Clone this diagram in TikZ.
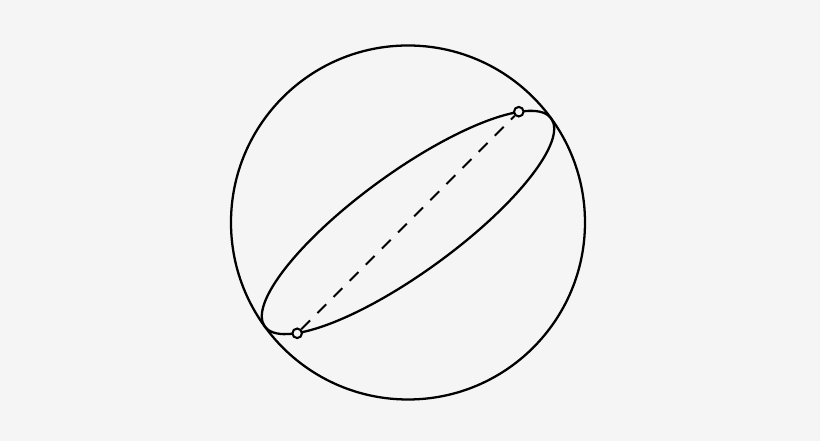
\documentclass[tikz,border=0pt]{standalone}
\usetikzlibrary{calc}
\definecolor{fondo}{HTML}{F5F5F5}
\begin{document}
\begin{tikzpicture}
	\tikzset{linea/.style={line width=1.1pt},
		punto/.style={circle,draw,fill=fondo,inner sep=0pt,minimum size=4.6pt,line width=1pt}}
	\fill[fondo] (-6.915,-3.703) rectangle (6.983,3.771);
	\useasboundingbox (-6.915,-3.703) rectangle (6.983,3.771);
	\draw[linea] (0,0) circle (3);
	\draw[linea,rotate=36] (0,0) ellipse (3 and .847);
	\node[punto] (A) at (45:2.656) {};
	\node[punto] (B) at (225:2.656) {};
	\draw[line width=1pt,dash pattern=on 6pt off 5pt] (B)--(A);
\end{tikzpicture}
\end{document}
